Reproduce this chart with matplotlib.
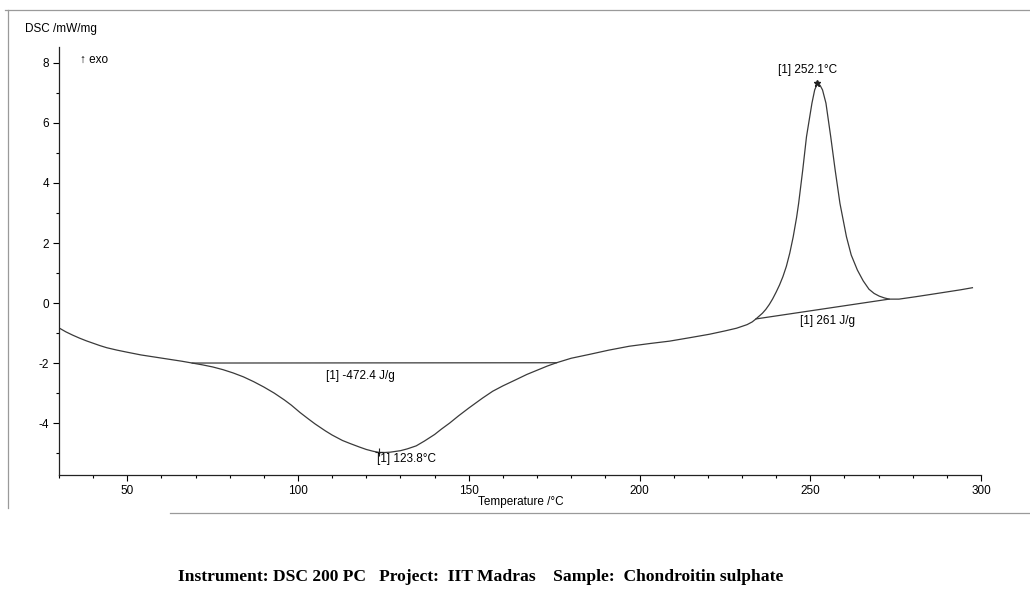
import matplotlib
matplotlib.use("Agg")
import matplotlib.pyplot as plt
from matplotlib.lines import Line2D
from matplotlib.ticker import MultipleLocator

# DSC trace (temperature in degC, heat flow in mW/mg)
temp = [30, 32, 34, 36, 38, 40, 42, 44, 47, 50, 54, 58, 62, 66, 69,
        72, 75, 78, 81, 84, 87, 90, 93, 96, 98, 100.6, 103, 105, 108, 110,
        113, 115.2, 118, 120, 122, 123.8, 125.5, 127, 130, 132, 134.6, 137,
        140, 142, 144.4, 147, 150, 154, 157, 160, 163.9, 167, 170, 173,
        175.7, 180, 185.4, 191, 197, 203, 208.8, 215, 220.5, 225, 228.4,
        231.5, 233, 234.1, 235, 236, 237, 238, 239, 240, 241, 242, 243, 244,
        245, 246, 246.6, 247.8, 248.9, 250.5, 251.3, 252.1, 252.9, 253.6,
        254.6, 256.0, 257.3, 258.7, 260.6, 262, 263.8, 265.5, 267.2, 268.7,
        270.2, 271.7, 273.1, 276, 280.9, 285.5, 290.6, 294, 297.5]
dsc = [-0.83, -0.96, -1.07, -1.17, -1.26, -1.34, -1.42, -1.49, -1.57, -1.64,
       -1.73, -1.8, -1.87, -1.94, -2.0,
       -2.06, -2.13, -2.22, -2.33, -2.46, -2.62, -2.8, -3.0, -3.23, -3.4,
       -3.65, -3.86, -4.03, -4.26, -4.4, -4.58, -4.68, -4.8, -4.88, -4.94,
       -4.98, -4.98, -4.97, -4.92, -4.86, -4.76, -4.6, -4.38, -4.2, -4.0,
       -3.76, -3.5, -3.17, -2.94, -2.76, -2.55, -2.38, -2.24, -2.1, -1.99,
       -1.84, -1.71, -1.57, -1.44, -1.35, -1.27, -1.15, -1.04, -0.93, -0.84,
       -0.72, -0.63, -0.53, -0.44, -0.34, -0.21, -0.05, 0.14, 0.36, 0.6,
       0.88, 1.22, 1.66, 2.2, 2.85, 3.32, 4.43, 5.54, 6.66, 7.1, 7.32, 7.25,
       7.1, 6.66, 5.54, 4.43, 3.32, 2.21, 1.6, 1.1, 0.74, 0.46, 0.32, 0.23,
       0.17, 0.13, 0.13, 0.21, 0.29, 0.38, 0.44, 0.51]

# integration baselines and evaluated points
endo_base_t = [69, 175.7]
endo_base_v = [-2.0, -1.99]
exo_base_t = [234.1, 273.1]
exo_base_v = [-0.53, 0.13]
endo_peak = (123.8, -4.98)
exo_peak = (252.1, 7.32)
endo_area = "[1] -472.4 J/g"
exo_area = "[1] 261 J/g"
endo_label = "[1] 123.8°C"
exo_label = "[1] 252.1°C"

line_col = "#3a3a3a"
plt.rcParams["font.family"] = ["Liberation Sans", "DejaVu Sans"]
plt.rcParams["axes.unicode_minus"] = False

fig = plt.figure(figsize=(10.3, 6.03), dpi=100)
ax = fig.add_axes([0.0573, 0.2123, 0.8951, 0.7097])

ax.plot(temp, dsc, color=line_col, lw=0.9)
ax.plot(endo_base_t, endo_base_v, color=line_col, lw=0.9)
ax.plot(exo_base_t, exo_base_v, color=line_col, lw=0.9)
ax.plot(*endo_peak, marker="+", color="#222222", ms=6, mew=0.8)
ax.plot(*exo_peak, marker="*", color="#222222", ms=5)

ax.text(118.4, -2.43, endo_area, fontsize=8.5, ha="center", va="center")
ax.text(endo_peak[0] - 0.6, -5.2, endo_label, fontsize=8.5, ha="left", va="center")
ax.text(249.1, 7.77, exo_label, fontsize=8.5, ha="center", va="center")
ax.text(255.0, -0.6, exo_area, fontsize=8.5, ha="center", va="center")
ax.text(36.0, 8.1, "↑ exo", fontsize=8.5, ha="left", va="center")

ax.set_xlim(30, 300)
ax.set_ylim(-5.73, 8.53)
ax.xaxis.set_major_locator(MultipleLocator(50))
ax.xaxis.set_minor_locator(MultipleLocator(10))
ax.yaxis.set_major_locator(MultipleLocator(2))
ax.yaxis.set_minor_locator(MultipleLocator(1))
ax.tick_params(which="major", length=4, width=0.8, labelsize=8.5, pad=3)
ax.tick_params(which="minor", length=2.5, width=0.8)
for side in ("top", "right"):
    ax.spines[side].set_visible(False)
for side in ("left", "bottom"):
    ax.spines[side].set_linewidth(0.9)
    ax.spines[side].set_color("#222222")

fig.text(0.024, 0.952, "DSC /mW/mg", fontsize=8.5, ha="left", va="center")
fig.text(0.506, 0.167, "Temperature /°C", fontsize=8.5, ha="center", va="center")

# page frame around the plot
frame = dict(color="#9a9a9a", lw=0.9, transform=fig.transFigure)
fig.add_artist(Line2D([0.005, 1.0], [1 - 10 / 603, 1 - 10 / 603], **frame))
fig.add_artist(Line2D([8 / 1030, 8 / 1030], [1 - 10 / 603, 1 - 508 / 603], **frame))
fig.add_artist(Line2D([170 / 1030, 1.0], [1 - 513 / 603, 1 - 513 / 603], **frame))

fig.text(0.467, 0.043,
         "Instrument: DSC 200 PC   Project:  IIT Madras    Sample:  Chondroitin sulphate",
         fontsize=12.6, fontweight="bold", family=["Liberation Serif", "DejaVu Serif"],
         ha="center", va="center")

fig.savefig("out.png", dpi=100)
